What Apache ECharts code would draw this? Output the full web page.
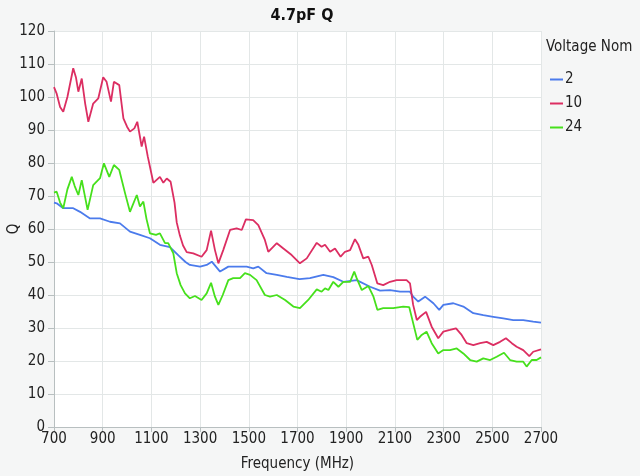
<!DOCTYPE html>
<html>
<head>
<meta charset="utf-8">
<script src="https://cdn.jsdelivr.net/npm/echarts@6/dist/echarts.min.js"></script>
<style>
html,body{margin:0;padding:0;background:#f5f6f6;}
#chart{width:640px;height:476px;}
</style>
</head>
<body>
<div id="chart"></div>
<script>
const title = '4.7pF Q';
const legendTitle = 'Voltage Nom';
const yName = 'Q';
const seriesNames = ['2', '10', '24'];

const freq2 = [700,711,738,779,807,848,889,930,971,1012,1053,1094,1135,1176,1211,1240,1258,1300,1327,1348,1382,1416,1450,1491,1518,1539,1573,1615,1656,1708,1751,1806,1847,1888,1943,1998,2039,2080,2121,2162,2175,2196,2224,2258,2282,2299,2340,2381,2422,2463,2504,2545,2586,2627,2668,2700];
const q2 = [68,67.8,66.3,66.3,65.2,63.2,63.2,62.2,61.7,59.2,58.2,57.2,55.2,54.5,52,50,49.1,48.6,49.1,50.1,47.1,48.6,48.6,48.6,48.1,48.6,46.6,46.1,45.5,44.8,45.1,46.1,45.4,44,44.5,42.5,41.3,41.5,41,41,39.5,38,39.5,37.5,35.5,37,37.5,36.5,34.5,33.9,33.4,32.9,32.4,32.4,31.9,31.6];

const freq10 = [700,711,725,738,755,779,790,800,814,828,841,861,882,902,916,934,946,968,985,1000,1012,1030,1042,1060,1070,1085,1108,1135,1149,1163,1179,1195,1204,1217,1230,1245,1272,1306,1327,1345,1361,1375,1395,1423,1450,1471,1488,1518,1539,1566,1580,1615,1642,1676,1710,1738,1779,1799,1813,1834,1854,1877,1895,1916,1936,1950,1970,1991,2005,2028,2052,2080,2107,2148,2162,2175,2190,2203,2228,2251,2278,2299,2326,2351,2374,2395,2422,2450,2477,2504,2532,2556,2580,2600,2627,2652,2668,2700];
const q10 = [103,101,97,95.5,100,108.7,106,101.6,105.6,98,92.5,98,99.6,106,104.6,98.6,104.6,103.6,93.5,91,89.5,90.5,92.5,85,88,82,74,75.8,74,75.3,74.3,68,62,58,55,53,52.6,51.6,53.6,59.5,53.6,49.6,53.6,59.7,60.2,59.7,62.9,62.7,61.2,56.7,53.1,55.7,54.1,52.1,49.6,51.1,55.8,54.6,55.2,53.1,54.1,51.6,53.1,53.6,56.9,55.2,51.1,51.6,49.1,43.5,43,44,44.5,44.5,43.5,37,32.4,33.4,34.9,30.4,26.9,28.9,29.4,29.9,27.9,25.4,24.8,25.4,25.8,24.8,25.8,26.9,25.4,24.3,23.3,21.5,22.8,23.5];

const freq24 = [700,711,725,738,755,773,785,800,814,838,861,889,905,927,946,968,992,1012,1040,1053,1067,1080,1094,1119,1135,1156,1169,1190,1204,1220,1238,1258,1279,1306,1327,1345,1361,1375,1393,1416,1436,1464,1484,1505,1532,1566,1587,1615,1649,1683,1710,1744,1779,1799,1813,1827,1847,1868,1888,1916,1933,1943,1964,1991,2012,2028,2052,2093,2134,2159,2170,2192,2210,2230,2251,2278,2299,2326,2354,2381,2409,2436,2463,2491,2518,2548,2573,2600,2627,2641,2662,2682,2700];
const q24 = [71,71.3,68,66.3,72,75.8,73,70.3,74.8,65.8,73.3,75.4,79.9,75.8,79.4,77.9,70.8,65.2,70.3,66.8,68.3,63,58.7,58.2,58.7,55.7,55.7,52.6,46.6,43,40.5,39,39.7,38.5,40.5,43.7,39.5,37,40,44.5,45.1,45.1,46.6,46.1,44.5,40,39.5,40,38.5,36.5,36,38.5,41.7,41,42,41.5,44,42.5,44,44,47.1,45.1,41.5,42.7,39.5,35.5,36,36,36.5,36.3,33,26.4,27.9,28.9,25.4,22.3,23.3,23.3,23.8,22.3,20.3,19.8,20.8,20.3,21.3,22.5,20.3,19.8,19.8,18.3,20.3,20.3,21.1];

const colors = ['#4b7bec', '#dc2e62', '#46e01c'];
const font = "'DejaVu Sans Condensed', 'Liberation Sans Narrow', 'Noto Sans', sans-serif";

function zip(xs, ys){ return xs.map((x,i)=>[x, ys[i]]); }

const chart = echarts.init(document.getElementById('chart'));
chart.setOption({
  animation: false,
  backgroundColor: '#f5f6f6',
  color: colors,
  title: {
    text: title, left: 297, top: 3, textAlign: 'center',
    textStyle: {fontFamily: font, fontSize: 16, fontWeight: 'bold', color: '#111'}
  },
  graphic: [{
    type: 'text', left: 546, top: 40,
    style: {text: legendTitle, fontFamily: font, fontSize: 15, fill: '#222'}
  }, {
    type: 'text', x: 14, y: 229, rotation: Math.PI / 2,
    style: {text: yName, fontFamily: font, fontSize: 15, fill: '#222', align: 'center', verticalAlign: 'middle'}
  }],
  legend: {
    orient: 'vertical', left: 545, top: 67, itemGap: 9,
    itemWidth: 13, itemHeight: 2, icon: 'rect',
    textStyle: {fontFamily: font, fontSize: 15, color: '#222', padding: [0,0,0,-3]},
    data: seriesNames
  },
  grid: {
    left: 54, right: 99, top: 31, bottom: 49,
    containLabel: false, outerBoundsMode: 'none',
    show: true, backgroundColor: '#ffffff', borderWidth: 0
  },
  xAxis: {
    type: 'value', min: 700, max: 2700, interval: 200,
    name: 'Frequency (MHz)', nameLocation: 'middle', nameGap: 30,
    nameTextStyle: {fontFamily: font, fontSize: 15, color: '#222'},
    axisLine: {show: true, lineStyle: {color: '#b8bfc0'}},
    axisTick: {show: true, length: 5, lineStyle: {color: '#b8bfc0'}},
    axisLabel: {fontFamily: font, fontSize: 15, color: '#222', margin: 5, formatter: v => String(v)},
    splitLine: {show: true, lineStyle: {color: '#e3e7e7'}}
  },
  yAxis: {
    type: 'value', min: 0, max: 120, interval: 10,
    axisLine: {show: true, lineStyle: {color: '#b8bfc0'}},
    axisTick: {show: true, length: 6, lineStyle: {color: '#b8bfc0'}},
    axisLabel: {fontFamily: font, fontSize: 15, color: '#222', margin: 9},
    splitLine: {show: true, lineStyle: {color: '#e3e7e7'}}
  },
  series: [
    {name: seriesNames[0], type: 'line', showSymbol: false, data: zip(freq2, q2), lineStyle: {width: 1.8}},
    {name: seriesNames[1], type: 'line', showSymbol: false, data: zip(freq10, q10), lineStyle: {width: 1.8}},
    {name: seriesNames[2], type: 'line', showSymbol: false, data: zip(freq24, q24), lineStyle: {width: 1.8}}
  ]
});
</script>
</body>
</html>
